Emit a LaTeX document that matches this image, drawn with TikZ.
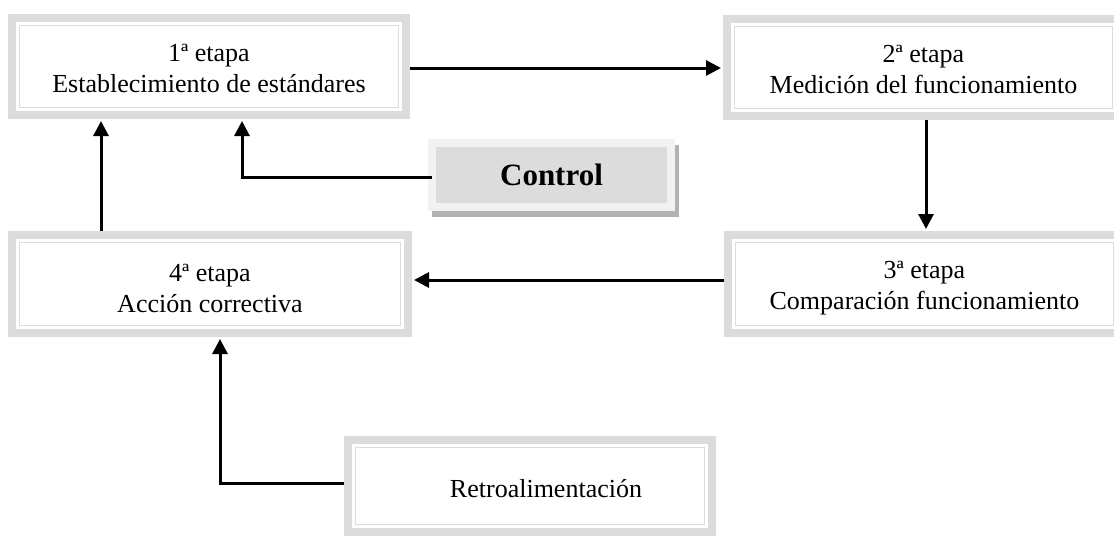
\documentclass[tikz,border=0pt]{standalone}
\usepackage{fontspec}
\setmainfont{Liberation Serif}
\usetikzlibrary{arrows.meta}
\definecolor{framegray}{RGB}{220,220,220}
\definecolor{ctrllight}{RGB}{242,242,242}
\definecolor{ctrlshadow}{RGB}{178,178,178}
\begin{document}
\begin{tikzpicture}[x=1pt,y=-1pt,
  stage/.style={draw=framegray, line width=8pt, fill=white, inner sep=0pt,
    path picture={\draw[framegray, line width=1.6pt]
      ([shift={(7.5pt,-7.5pt)}]path picture bounding box.north west) rectangle
      ([shift={(-7.5pt,7.5pt)}]path picture bounding box.south east);}},
  stagetext/.style={inner sep=0pt, align=center, font=\fontsize{26}{31}\selectfont},
  ctrl/.style={draw=ctrllight, line width=8pt, fill=framegray, inner sep=0pt, outer sep=0pt,
    font=\fontsize{31}{36}\selectfont\bfseries},
  arr/.style={line width=3pt, -{Triangle[width=15pt,length=15pt]}, shorten >=2pt},
]
\clip (0,0) rectangle (1114,536);
\fill[white] (0,0) rectangle (1114,536);

\node[stage, minimum width=394pt, minimum height=97pt] (b1) at (209,66.5) {};
\node[stage, minimum width=393pt, minimum height=97pt] (b2) at (923.5,67.5) {};
\node[stage, minimum width=393pt, minimum height=98pt] (b3) at (924.5,284) {};
\node[stage, minimum width=396pt, minimum height=98pt] (b4) at (210,284) {};
\node[stage, minimum width=364pt, minimum height=92pt] (retro) at (530,486) {};

\node[stagetext] (t1) at ([yshift=-2pt]b1.center) {1ª etapa\\Establecimiento de estándares};
\node[stagetext] (t2) at ([yshift=-2pt]b2.center) {2ª etapa\\Medición del funcionamiento};
\node[stagetext] (t3) at ([yshift=-4pt]b3.center) {3ª etapa\\Comparación funcionamiento};
\node[stagetext] (t4) at ([yshift=-4pt]b4.center) {4ª etapa\\Acción correctiva};
\node[stagetext] (rtext) at (546,489) {Retroalimentación};

\fill[ctrlshadow] (432,145) rectangle (679,217);
\node[ctrl, minimum width=239pt, minimum height=64pt] (ctl) at (551.5,175) {Control};

\coordinate (x4) at (101,0);
\coordinate (x5) at (242,0);
\coordinate (x6) at (220,0);

\draw[arr] ([yshift=-1.5pt]b1.east) -- ([yshift=-1.5pt]b1.east -| b2.west);
\draw[arr] ([xshift=2.5pt]b2.south) -- ([xshift=2.5pt]b2.south |- b3.north);
\draw[arr] ([yshift=4pt]b3.west) -- ([yshift=4pt]b3.west -| b4.east);
\draw[arr] (b4.north -| x4) -- (b1.south -| x4);
\draw[arr] ([yshift=-2pt]ctl.west) -| (b1.south -| x5);
\draw[arr] ([yshift=3pt]retro.west) -| (b4.south -| x6);
\end{tikzpicture}
\end{document}
